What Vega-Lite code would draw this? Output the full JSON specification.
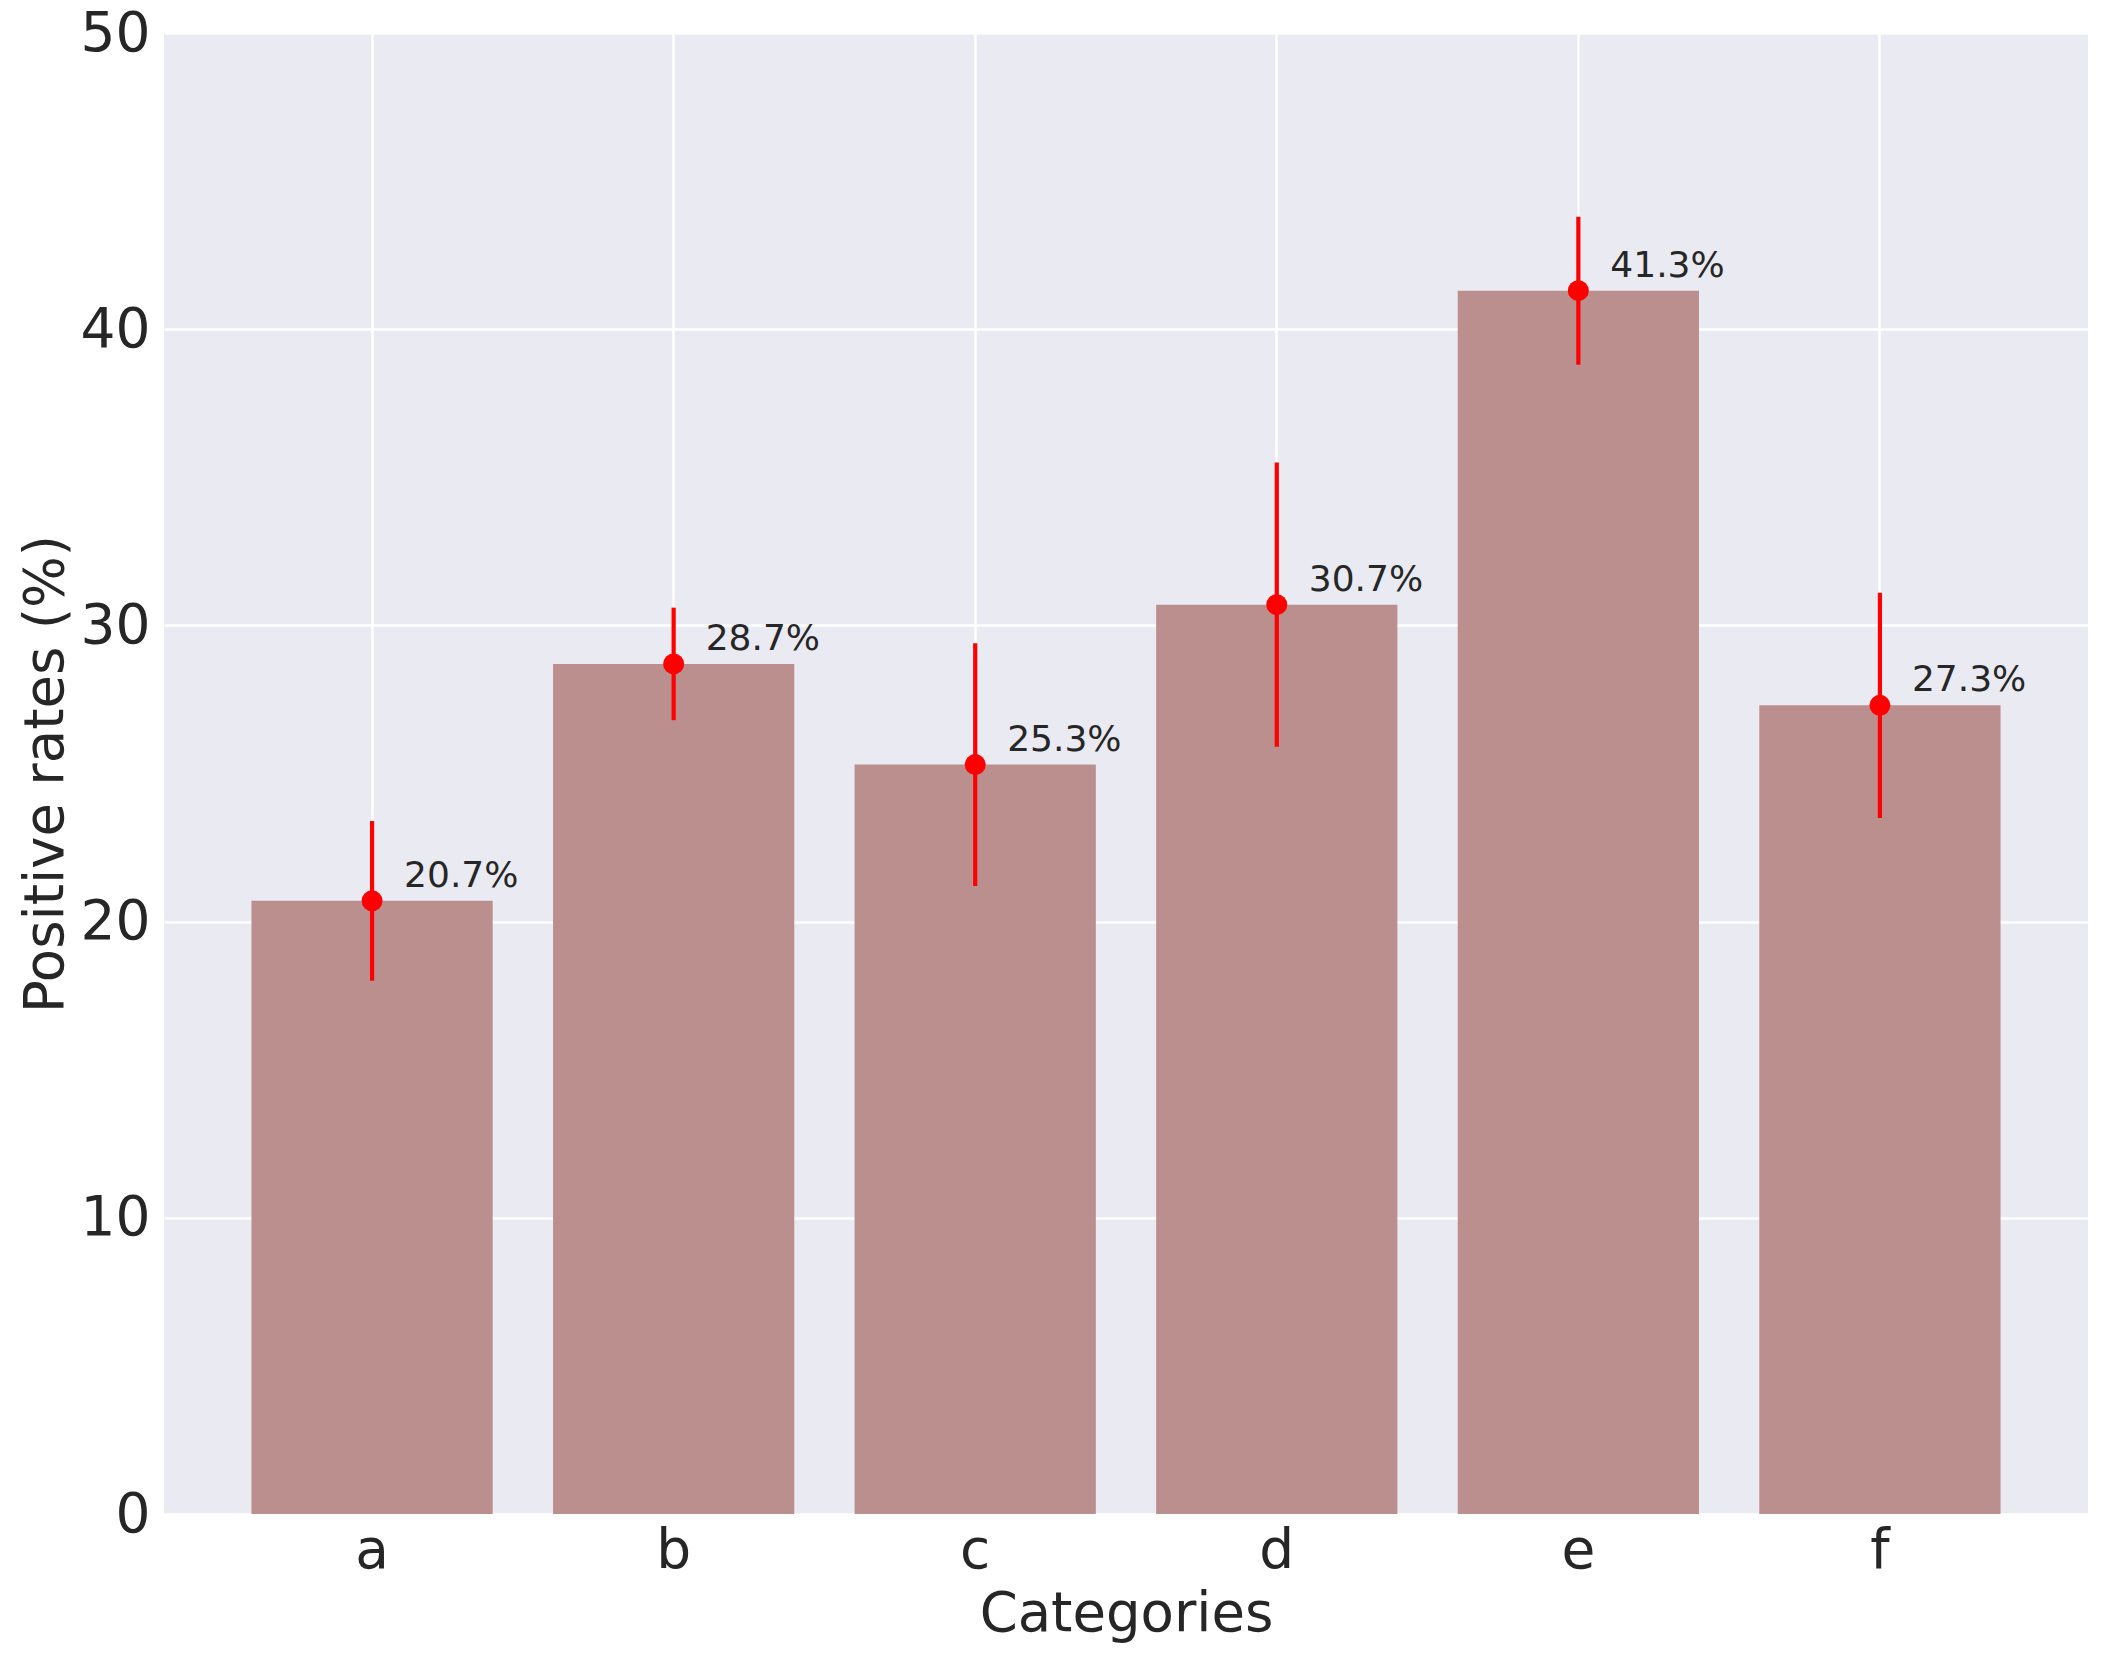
{
  "$schema": "https://vega.github.io/schema/vega-lite/v6.json",
  "width": 1924,
  "height": 1481,
  "autosize": {"type": "none"},
  "padding": {"left": 164, "top": 33, "right": 29, "bottom": 149},
  "background": "white",
  "config": {
    "font": "DejaVu Sans",
    "view": {"fill": "#EAEAF2", "stroke": null},
    "axis": {
      "domain": false,
      "ticks": false,
      "gridColor": "white",
      "gridWidth": 2.5,
      "labelColor": "#262626",
      "titleColor": "#262626",
      "labelFont": "DejaVu Sans",
      "titleFont": "DejaVu Sans",
      "labelFontSize": 55,
      "titleFontSize": 54.5,
      "titleFontWeight": "normal"
    }
  },
  "data": {
    "values": [
      {"category": "a", "rate": 20.7, "lo": 18.0, "hi": 23.4, "label": "20.7%"},
      {"category": "b", "rate": 28.7, "lo": 26.8, "hi": 30.6, "label": "28.7%"},
      {"category": "c", "rate": 25.3, "lo": 21.2, "hi": 29.4, "label": "25.3%"},
      {"category": "d", "rate": 30.7, "lo": 25.9, "hi": 35.5, "label": "30.7%"},
      {"category": "e", "rate": 41.3, "lo": 38.8, "hi": 43.8, "label": "41.3%"},
      {"category": "f", "rate": 27.3, "lo": 23.5, "hi": 31.1, "label": "27.3%"}
    ]
  },
  "encoding": {
    "x": {
      "field": "category",
      "type": "nominal",
      "scale": {"paddingInner": 0.2, "paddingOuter": 0.29},
      "axis": {"title": "Categories", "labelAngle": 0, "labelPadding": 10, "titlePadding": 9, "grid": true}
    }
  },
  "layer": [
    {
      "mark": {"type": "bar", "color": "#BC8F8F"},
      "encoding": {
        "y": {
          "field": "rate",
          "type": "quantitative",
          "scale": {"domain": [0, 50], "nice": false},
          "axis": {"title": "Positive rates (%)", "values": [0, 10, 20, 30, 40, 50], "labelPadding": 14, "titlePadding": 18, "titleBaseline": "alphabetic"}
        }
      }
    },
    {
      "mark": {"type": "rule", "color": "#FF0000", "strokeWidth": 4.2},
      "encoding": {
        "y": {"field": "lo", "type": "quantitative"},
        "y2": {"field": "hi"}
      }
    },
    {
      "mark": {"type": "point", "filled": true, "color": "#FF0000", "size": 441, "opacity": 1, "shape": "circle"},
      "encoding": {
        "y": {"field": "rate", "type": "quantitative"}
      }
    },
    {
      "mark": {"type": "text", "align": "left", "baseline": "alphabetic", "dx": 32, "dy": -14, "fontSize": 36, "color": "#262626"},
      "encoding": {
        "y": {"field": "rate", "type": "quantitative"},
        "text": {"field": "label"}
      }
    }
  ]
}
